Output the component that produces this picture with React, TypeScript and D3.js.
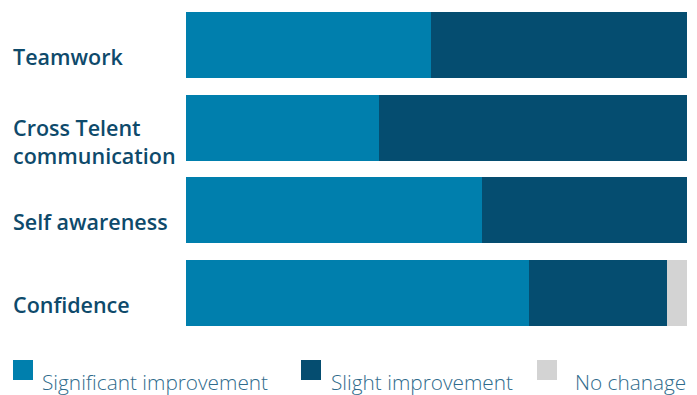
import React from "react";
import * as d3 from "d3";

const categories = ["Teamwork", "Cross Telent communication", "Self awareness", "Confidence"];
const labelLines = [["Teamwork"], ["Cross Telent", "communication"], ["Self awareness"], ["Confidence"]];
const seriesNames = ["Significant improvement", "Slight improvement", "No chanage"];
const significant = [49, 38.5, 59, 68.5];
const slight = [51, 61.5, 41, 27.5];
const noChange = [0, 0, 0, 4];
const colors = ["#007fad", "#054d70", "#d3d3d3"];

const W = 697;
const H = 395;
const FONT = "'Open Sans', 'Noto Sans', sans-serif";

export default function App() {
  const rows = categories.map((c, i) => ({
    cat: c,
    s0: significant[i],
    s1: slight[i],
    s2: noChange[i],
  }));
  const stack = d3.stack<any>().keys(["s0", "s1", "s2"]);
  const layers = stack(rows);

  const x = d3.scaleLinear().domain([0, 100]).range([186, 687]);
  const y = d3.scaleBand().domain(categories).range([12, 326]).paddingInner(0.2).paddingOuter(0);

  const legendX = [13, 301, 537];
  const legendTextX = [42, 331, 575];

  return (
    <svg width={W} height={H} style={{ position: "absolute", left: 0, top: 0, display: "block" }}>
      <rect x={0} y={0} width={W} height={H} fill="#ffffff" />
      {layers.map((layer, li) => (
        <g key={li} fill={colors[li]}>
          {layer.map((d, i) => {
            const w = x(d[1]) - x(d[0]);
            if (w <= 0) return null;
            return (
              <rect
                key={i}
                x={x(d[0])}
                y={y(categories[i])}
                width={w}
                height={y.bandwidth()}
                shapeRendering="crispEdges"
              />
            );
          })}
        </g>
      ))}
      {categories.map((c, i) => {
        const cy = (y(c) as number) + y.bandwidth() / 2;
        const lines = labelLines[i];
        const base = lines.length === 1 ? cy + 20 : cy + 8;
        return (
          <text
            key={c}
            x={13}
            fontFamily={FONT}
            fontWeight={600}
            fontSize={21.5}
            fill="#0e4a6b"
          >
            {lines.map((l, k) => (
              <tspan key={k} x={13} y={base + k * 28}>
                {l}
              </tspan>
            ))}
          </text>
        );
      })}
      {seriesNames.map((n, i) => (
        <g key={n}>
          <rect x={legendX[i]} y={360} width={20} height={20} fill={colors[i]} />
          <text
            x={legendTextX[i]}
            y={390}
            fontFamily={FONT}
            fontWeight={300}
            fontSize={20.8}
            fill="#2f6b8c"
          >
            {n}
          </text>
        </g>
      ))}
    </svg>
  );
}
